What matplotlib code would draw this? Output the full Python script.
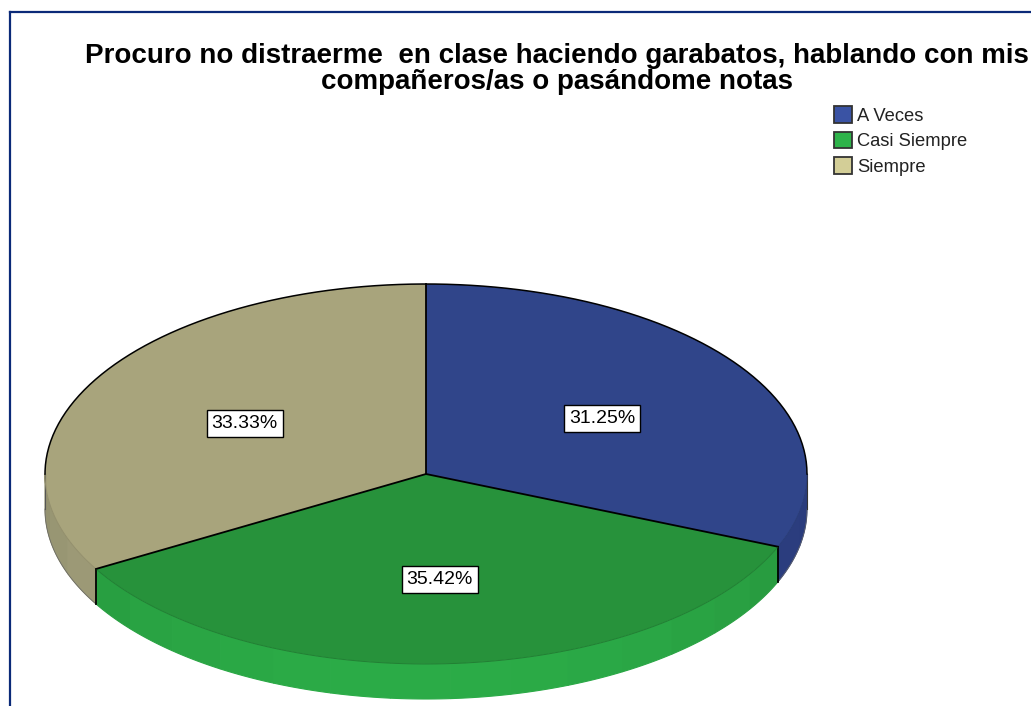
# -*- coding: utf-8 -*-
import numpy as np
import matplotlib
matplotlib.use('Agg')
import matplotlib.pyplot as plt
from matplotlib.colors import to_rgb
from matplotlib.lines import Line2D
from matplotlib.patches import Patch

categorias = ['A Veces', 'Casi Siempre', 'Siempre']
porcentajes = [31.25, 35.42, 33.33]
titulo = 'Procuro no distraerme  en clase haciendo garabatos, hablando con mis\ncompañeros/as o pasándome notas'

col_top = ['#30458a', '#27923b', '#a8a47c']
col_leyenda = ['#3a53a4', '#2eb34a', '#d3ce97']
# colores de la pared lateral (oscuro, claro)
col_pared = [('#2a3c7c', '#2c4084'), ('#25903a', '#2bab47'), ('#92906e', '#aaa680')]

plt.rcParams['font.family'] = ['Liberation Sans', 'DejaVu Sans']

W, H = 1031, 706
cx, cy, rx, ry = 426, 474, 381, 190
prof = 35 / ry

fig = plt.figure(figsize=(W / 100, H / 100), dpi=100, facecolor='white')
ax = fig.add_axes([0, 0, 1, 1])

# pared lateral, por facetas
bordes = 90 - np.cumsum([0] + porcentajes) / sum(porcentajes) * 360
for i in range(3):
    a0 = max(bordes[i + 1], -180)
    a1 = min(bordes[i], 0)
    n = max(1, int((a1 - a0) / 9))
    c0 = np.array(to_rgb(col_pared[i][0]))
    c1 = np.array(to_rgb(col_pared[i][1]))
    lim = np.linspace(a0, a1, n + 1)
    for j in range(n):
        t = np.radians(np.linspace(lim[j], lim[j + 1], 12))
        xs = np.r_[np.cos(t), np.cos(t[::-1])]
        ys = np.r_[np.sin(t), np.sin(t[::-1]) - prof]
        k = abs(np.sin(np.radians((lim[j] + lim[j + 1]) / 2)))
        c = c0 + (c1 - c0) * k
        ax.fill(xs, ys, facecolor=c, edgecolor=c, lw=0.8)
    # contorno inferior, solo en los costados
    if i != 1:
        t = np.radians(np.linspace(a0, a1, 60))
        ax.plot(np.cos(t), np.sin(t) - prof, color='#666666', lw=0.5)

# aristas verticales
for a in bordes[1:3]:
    x = np.cos(np.radians(a))
    y = np.sin(np.radians(a))
    ax.plot([x, x], [y, y - prof], color='black', lw=1.3)
ax.plot([-1, -1], [0, -prof], color='#555555', lw=0.8)
ax.plot([1, 1], [0, -prof], color='#333333', lw=0.8)

wedges, textos, autotextos = ax.pie(
    porcentajes, colors=col_top, startangle=90, counterclock=False,
    autopct='%.2f%%', pctdistance=0.55, wedgeprops=dict(linewidth=0))
for t in autotextos:
    t.set_fontsize(14)
    t.set_color('black')
    t.set_bbox(dict(facecolor='white', edgecolor='black', linewidth=1, boxstyle='square,pad=0.25'))
    t.set_zorder(10)
    x0, y0 = t.get_position()
    t.set_position((x0, y0 - 1.5 / ry))
# la etiqueta azul va un poco corrida en el original
x0, y0 = autotextos[0].get_position()
autotextos[0].set_position((x0 + 2 / rx, y0 - 1 / ry))

# radios y arco trasero en negro, el frente casi no lleva borde
for a in bordes[:3]:
    ax.plot([0, np.cos(np.radians(a))], [0, np.sin(np.radians(a))], color='black', lw=1.3, zorder=5)
t = np.radians(np.linspace(0, 180, 200))
ax.plot(np.cos(t), np.sin(t), color='black', lw=1.1, zorder=5)
for i in range(3):
    t = np.radians(np.linspace(max(bordes[i + 1], -180), min(bordes[i], 0), 80))
    ax.plot(np.cos(t), np.sin(t), color=np.array(to_rgb(col_top[i])) * 0.88, lw=0.7, zorder=4)

# la pie queda como elipse: se quita el aspecto igual
ax.set_aspect('auto')
ax.set_xlim(-cx / rx, (W - cx) / rx)
ax.set_ylim((cy - H) / ry, cy / ry)
ax.axis('off')

fig.text(557 / W, 1 - 69 / H, titulo, ha='center', va='center', fontsize=20,
         fontweight='bold', color='black', linespacing=1.03)

marcas = [Patch(facecolor=c, edgecolor='#333333', linewidth=1.3) for c in col_leyenda]
fig.legend(marcas, categorias, loc='upper left', bbox_to_anchor=(828 / W, 1 - 101 / H),
           frameon=False, fontsize=13.2, handlelength=1.0, handleheight=1.0,
           handletextpad=0.3, labelspacing=0.38, borderpad=0.3, borderaxespad=0,
           labelcolor='#222222')

# marco azul de la captura
fig.add_artist(Line2D([10 / W, 10 / W], [0, 1 - 12 / H], color='#0b2a78', lw=1.6))
fig.add_artist(Line2D([10 / W, 1], [1 - 12 / H, 1 - 12 / H], color='#0b2a78', lw=1.6))

fig.savefig('out.png', dpi=100)
